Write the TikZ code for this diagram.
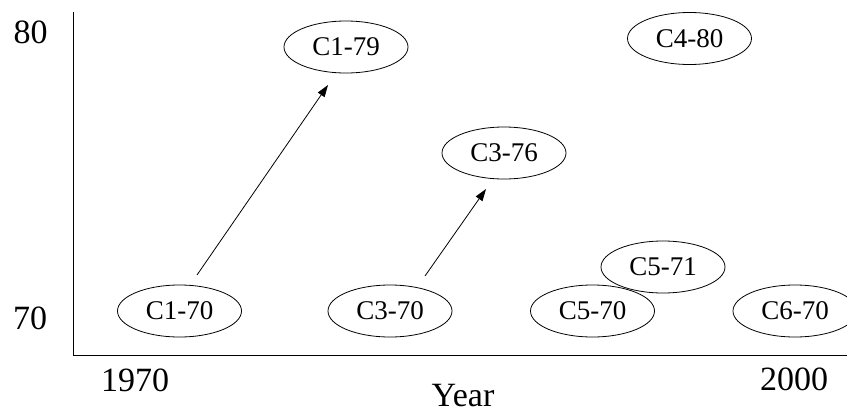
\documentclass[tikz,border=0pt]{standalone}
\usepackage{fontspec}
\setmainfont{Liberation Serif}
\usetikzlibrary{shapes.geometric,arrows.meta}
\tikzset{
  cnode/.style={draw, ellipse, line width=0.8pt, minimum width=124pt, minimum height=52pt, inner sep=0pt, font=\fontsize{27}{30}\selectfont},
  axlabel/.style={inner sep=0pt, font=\fontsize{34}{38}\selectfont},
  axline/.style={line width=1pt},
  evo/.style={line width=0.8pt, -{Triangle[length=12pt,width=8pt]}}
}
\begin{document}
\begin{tikzpicture}[x=1pt,y=-1pt]
\useasboundingbox (0,0) rectangle (847,413);
% axes
\coordinate (ytop) at (73,12);
\coordinate (org) at (73,355);
\coordinate (xend) at (847,355);
\draw[axline] (ytop) -- (org) -- (xend);
% axis labels
\node[axlabel] (l80) at (30.5,32) {80};
\node[axlabel] (l70) at (30,318) {70};
\node[axlabel] (l1970) at (135,380) {1970};
\node[axlabel] (l2000) at (794,379) {2000};
\node[axlabel] (lyear) at (463,396) {Year};
% nodes
\node[cnode] (c170) at (179.5,311) {C1-70};
\node[cnode] (c370) at (390,311) {C3-70};
\node[cnode] (c570) at (592.5,311) {C5-70};
\node[cnode] (c670) at (795,311) {C6-70};
\node[cnode] (c571) at (663,267) {C5-71};
\node[cnode] (c376) at (504,153) {C3-76};
\node[cnode] (c179) at (346,47) {C1-79};
\node[cnode] (c480) at (689.5,38.5) {C4-80};
% arrows
\draw[evo] ([shift={(17.5,-36)}]c170.center) -- ([shift={(-18,38)}]c179.center);
\draw[evo] ([shift={(35,-35)}]c370.center) -- ([shift={(-18,36)}]c376.center);
\end{tikzpicture}
\end{document}
